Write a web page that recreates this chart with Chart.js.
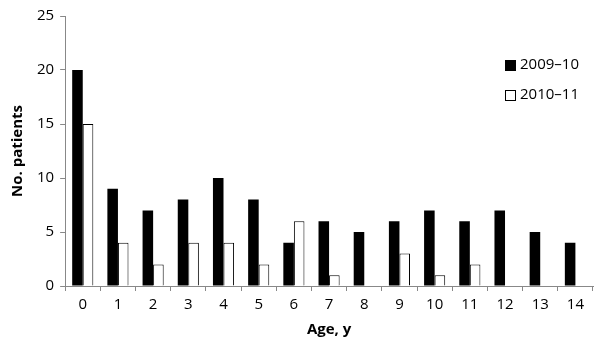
<!DOCTYPE html>
<html>
<head>
<meta charset="utf-8">
<script src="https://cdn.jsdelivr.net/npm/chart.js@4"></script>
<style>
  body { margin: 0; background: #fff; }
  #wrap { width: 600px; height: 352px; }
</style>
</head>
<body>
<div id="wrap"><canvas id="mycanvas"></canvas></div>
<script>
var ages = ['0','1','2','3','4','5','6','7','8','9','10','11','12','13','14'];
var season1 = [20, 9, 7, 8, 10, 8, 4, 6, 5, 6, 7, 6, 7, 5, 4];
var season2 = [15, 4, 2, 4, 4, 2, 6, 1, 0, 3, 1, 2, 0, 0, 0];
var seasonLabels = ['2009\u201310', '2010\u201311'];

var font = "'Open Sans', 'Liberation Sans', sans-serif";

// legend drawn inside the plot, top right
var legendPlugin = {
  id: 'insideLegend',
  afterDraw: function(chart) {
    var ctx = chart.ctx;
    ctx.save();
    ctx.font = '15px ' + font;
    ctx.textBaseline = 'middle';
    var x = 505, ys = [65, 95];
    chart.data.datasets.forEach(function(ds, i) {
      ctx.fillStyle = ds.backgroundColor;
      ctx.strokeStyle = '#000';
      ctx.lineWidth = 1;
      ctx.fillRect(x, ys[i] - 5, 11, 11);
      ctx.strokeRect(x + 0.5, ys[i] - 4.5, 10, 10);
      ctx.fillStyle = '#000';
      ctx.fillText(ds.label, x + 15, ys[i]);
    });
    ctx.restore();
  }
};

var chartdata = {
  labels: ages,
  datasets: [
    {
      label: seasonLabels[0],
      backgroundColor: '#000000',
      borderColor: '#000000',
      borderWidth: 0,
      data: season1
    },
    {
      label: seasonLabels[1],
      backgroundColor: '#ffffff',
      borderColor: '#000000',
      borderWidth: 1,
      data: season2
    }
  ]
};

new Chart(document.getElementById('mycanvas'), {
  type: 'bar',
  data: chartdata,
  plugins: [legendPlugin],
  options: {
    responsive: true,
    maintainAspectRatio: false,
    animation: false,
    layout: { padding: { left: 5, right: 7, top: 16, bottom: 9 } },
    datasets: { bar: { barPercentage: 1.0, categoryPercentage: 0.6 } },
    plugins: {
      legend: { display: false },
      tooltip: { enabled: false }
    },
    scales: {
      x: {
        grid: { display: true, drawOnChartArea: false, offset: true, tickLength: 5, color: '#888' },
        border: { color: '#888' },
        ticks: { color: '#000', font: { family: font, size: 15 }, padding: 5 },
        title: { display: true, text: 'Age, y', color: '#000', font: { family: font, size: 15, weight: 'bold' }, padding: { top: 2 } }
      },
      y: {
        min: 0,
        max: 25,
        ticks: { stepSize: 5, color: '#000', font: { family: font, size: 15 }, padding: 6 },
        grid: { display: true, drawOnChartArea: false, tickLength: 5, color: '#888' },
        border: { color: '#888' },
        title: { display: true, text: 'No. patients', color: '#000', font: { family: font, size: 15, weight: 'bold' }, padding: { bottom: 4 } }
      }
    }
  }
});
</script>
</body>
</html>
